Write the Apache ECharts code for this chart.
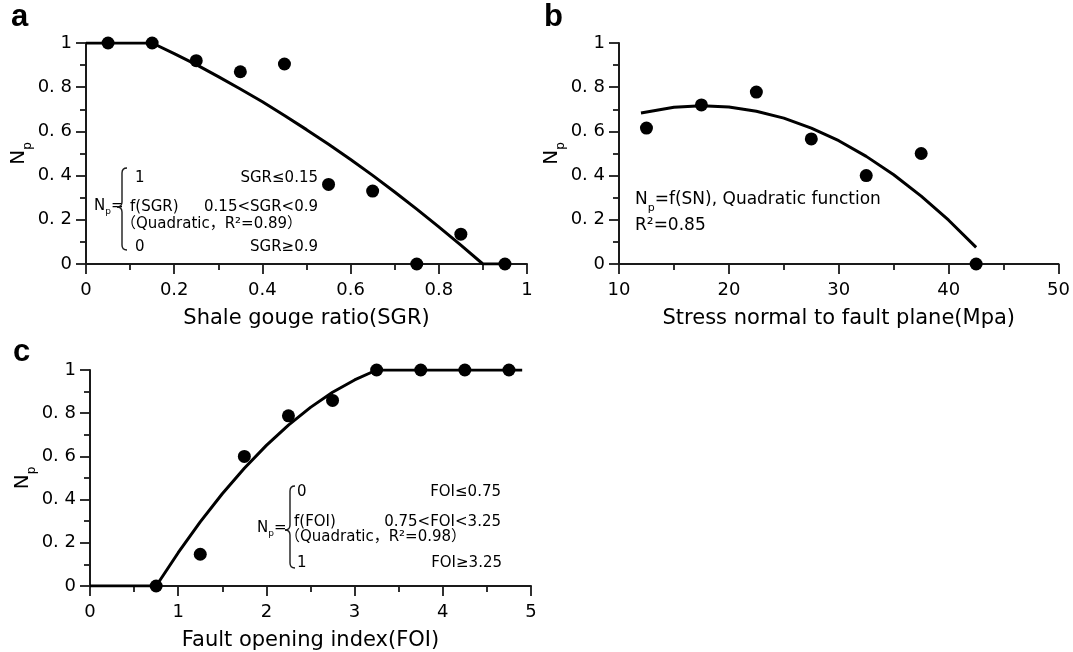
<!DOCTYPE html>
<html><head><meta charset="utf-8">
<script src="https://cdn.jsdelivr.net/npm/echarts@6/dist/echarts.min.js"></script>
<style>html,body{margin:0;padding:0;background:#fff}#c{width:1073px;height:652px}</style>
</head><body><div id="c"></div>
<script>
// ---- Panel a : Shale gouge ratio ----
const sgrX = [0.05, 0.15, 0.25, 0.35, 0.45, 0.55, 0.65, 0.75, 0.85, 0.95];
const sgrNp = [1, 1, 0.92, 0.87, 0.905, 0.36, 0.33, 0, 0.135, 0];
const sgrFitX = [0, 0.15, 0.2, 0.25, 0.3, 0.35, 0.4, 0.45, 0.5, 0.55, 0.6, 0.65, 0.7, 0.75, 0.8, 0.85, 0.9, 0.95];
const sgrFitNp = [1, 1, 0.952, 0.902, 0.848, 0.792, 0.734, 0.672, 0.608, 0.542, 0.473, 0.401, 0.326, 0.248, 0.168, 0.085, 0, 0];
// ---- Panel b : Stress normal to fault plane ----
const snX = [12.5, 17.5, 22.5, 27.5, 32.5, 37.5, 42.5];
const snNp = [0.615, 0.72, 0.778, 0.566, 0.40, 0.50, 0];
const snFitX = [12, 15, 17.5, 20, 22.5, 25, 27.5, 30, 32.5, 35, 37.5, 40, 42.5];
const snFitNp = [0.683, 0.709, 0.716, 0.710, 0.691, 0.660, 0.615, 0.558, 0.487, 0.404, 0.307, 0.198, 0.075];
// ---- Panel c : Fault opening index ----
const foiX = [0.75, 1.25, 1.75, 2.25, 2.75, 3.25, 3.75, 4.25, 4.75];
const foiNp = [0, 0.147, 0.60, 0.788, 0.859, 1, 1, 1, 1];
const foiFitX = [0, 0.75, 1, 1.25, 1.5, 1.75, 2, 2.25, 2.5, 2.75, 3, 3.25, 4.9];
const foiFitNp = [0, 0, 0.154, 0.297, 0.427, 0.545, 0.651, 0.745, 0.827, 0.897, 0.954, 1, 1];
// ---- Axis texts ----
const xNames = ['Shale gouge ratio(SGR)', 'Stress normal to fault plane(Mpa)', 'Fault opening index(FOI)'];
const panelLetters = ['a', 'b', 'c'];

const FONT = 'DejaVu Sans';
const INK = '#000';
const AX = '#1a1a1a';

function pairs(xs, ys) { return xs.map((x, i) => [x, ys[i]]); }

function makeX(gi, min, max, interval, name) {
  return {
    gridIndex: gi, type: 'value', min: min, max: max, interval: interval,
    name: name, nameLocation: 'middle', nameGap: 44,
    nameTextStyle: { fontSize: 21, color: INK, fontFamily: FONT },
    axisLine: { show: true, onZero: false, lineStyle: { color: AX, width: 2 } },
    axisTick: { show: true, length: 10, lineStyle: { color: AX, width: 1.8 } },
    minorTick: { show: true, splitNumber: 2, length: 6, lineStyle: { color: AX, width: 1.8 } },
    axisLabel: { fontSize: 18, color: INK, fontFamily: FONT, margin: 17,
      formatter: v => String(Math.round(v * 100) / 100) },
    splitLine: { show: false }, minorSplitLine: { show: false }
  };
}
function makeY(gi) {
  return {
    gridIndex: gi, type: 'value', min: 0, max: 1, interval: 0.2,
    name: '{n|N}{s|p}', nameLocation: 'middle', nameRotate: 90, nameGap: 53,
    nameTextStyle: { color: INK, fontFamily: FONT,
      rich: {
        n: { fontSize: 20, fontFamily: FONT, color: INK, verticalAlign: 'top', lineHeight: 24 },
        s: { fontSize: 12, fontFamily: FONT, color: INK, verticalAlign: 'top', lineHeight: 13, padding: [13, 0, 0, 0] }
      } },
    axisLine: { show: true, onZero: false, lineStyle: { color: AX, width: 2 } },
    axisTick: { show: true, length: 10, lineStyle: { color: AX, width: 1.8 } },
    minorTick: { show: true, splitNumber: 2, length: 6, lineStyle: { color: AX, width: 1.8 } },
    axisLabel: { fontSize: 18, color: INK, fontFamily: FONT, margin: 14,
      formatter: v => (v === 0 ? '0' : (Math.abs(v - 1) < 1e-9 ? '1' : '0. ' + Math.round(v * 10))) },
    splitLine: { show: false }, minorSplitLine: { show: false }
  };
}
function fitSeries(i, data) {
  return { type: 'line', xAxisIndex: i, yAxisIndex: i, data: data, showSymbol: false, symbol: 'none',
    smooth: false, lineStyle: { color: INK, width: 3 }, silent: true, z: 2 };
}
function dotSeries(i, data) {
  return { type: 'scatter', xAxisIndex: i, yAxisIndex: i, data: data, symbol: 'circle', symbolSize: 13,
    itemStyle: { color: '#000', opacity: 1 }, silent: true, z: 3 };
}

// text helpers
const AFONT = 'DejaVu Sans, Noto Sans CJK SC';
function txt(x, y, text, size, align) {
  return { type: 'text', x: x, y: y, silent: true,
    style: { text: text, fontSize: size, fontFamily: AFONT, fill: INK, align: align || 'left', verticalAlign: 'middle' } };
}
function richNp(x, y, tail, size) {
  return { type: 'text', x: x, y: y, silent: true,
    style: { text: '{n|N}{s|p}{n|' + tail + '}', fontFamily: FONT, fill: INK, align: 'left', verticalAlign: 'middle',
      rich: {
        n: { fontSize: size, fontFamily: FONT, fill: INK, color: INK, verticalAlign: 'top', lineHeight: size + 4 },
        s: { fontSize: Math.round(size * 0.62), fontFamily: FONT, fill: INK, color: INK, verticalAlign: 'top', lineHeight: Math.round(size * 0.7), padding: [Math.round(size * 0.62), 0, 0, 0] }
      } } };
}
function brace(x, top, bottom, tip) {
  const ls = { stroke: AX, lineWidth: 1.4, fill: null };
  return [
    { type: 'bezierCurve', silent: true, shape: { x1: x + 5, y1: top, cpx1: x, cpy1: top, x2: x, y2: top + 5 }, style: ls },
    { type: 'line', silent: true, shape: { x1: x, y1: top + 5, x2: x, y2: tip - 5 }, style: ls },
    { type: 'bezierCurve', silent: true, shape: { x1: x, y1: tip - 5, cpx1: x, cpy1: tip, x2: x - 5, y2: tip }, style: ls },
    { type: 'bezierCurve', silent: true, shape: { x1: x - 5, y1: tip, cpx1: x, cpy1: tip, x2: x, y2: tip + 5 }, style: ls },
    { type: 'line', silent: true, shape: { x1: x, y1: tip + 5, x2: x, y2: bottom - 5 }, style: ls },
    { type: 'bezierCurve', silent: true, shape: { x1: x, y1: bottom - 5, cpx1: x, cpy1: bottom, x2: x + 5, y2: bottom }, style: ls }
  ];
}

const graphics = [];
// panel letters
[[11, 17], [544, 17], [13, 352]].forEach((p, i) => {
  graphics.push({ type: 'text', x: p[0], y: p[1], silent: true,
    style: { text: panelLetters[i], fontSize: 31, fontWeight: 'bold', fontFamily: 'Liberation Sans', fill: '#000', align: 'left', verticalAlign: 'middle' } });
});
// panel a annotation
graphics.push(richNp(94, 208, '=', 15));
graphics.push(...brace(122, 168, 250, 207));
graphics.push(txt(135, 178, '1', 15));
graphics.push(txt(318, 178, 'SGR≤0.15', 15, 'right'));
graphics.push(txt(130, 207, 'f(SGR)', 15));
graphics.push(txt(318, 207, '0.15<SGR<0.9', 15, 'right'));
graphics.push(txt(121, 224, '（Quadratic，R²=0.89）', 15));
graphics.push(txt(135, 247, '0', 15));
graphics.push(txt(318, 247, 'SGR≥0.9', 15, 'right'));
// panel b annotation
graphics.push(richNp(635, 202, '=f(SN), Quadratic function', 17));
graphics.push(txt(635, 226, 'R²=0.85', 17));
// panel c annotation
graphics.push(richNp(257, 530, '=', 15));
graphics.push(...brace(290, 486, 568, 530));
graphics.push(txt(297, 492, '0', 15));
graphics.push(txt(501, 492, 'FOI≤0.75', 15, 'right'));
graphics.push(txt(294, 522, 'f(FOI)', 15));
graphics.push(txt(501, 522, '0.75<FOI<3.25', 15, 'right'));
graphics.push(txt(285, 537, '（Quadratic，R²=0.98）', 15));
graphics.push(txt(297, 563, '1', 15));
graphics.push(txt(502, 563, 'FOI≥3.25', 15, 'right'));

const chart = echarts.init(document.getElementById('c'), null, { renderer: 'canvas' });
chart.setOption({
  animation: false,
  backgroundColor: '#fff',
  grid: [
    { left: 86, top: 43, width: 441, height: 221 },
    { left: 619, top: 43, width: 440, height: 221 },
    { left: 90, top: 370, width: 441, height: 221 }
  ],
  xAxis: [
    makeX(0, 0, 1, 0.2, xNames[0]),
    makeX(1, 10, 50, 10, xNames[1]),
    makeX(2, 0, 5, 1, xNames[2])
  ],
  yAxis: [makeY(0), makeY(1), makeY(2)],
  series: [
    fitSeries(0, pairs(sgrFitX, sgrFitNp)), dotSeries(0, pairs(sgrX, sgrNp)),
    fitSeries(1, pairs(snFitX, snFitNp)), dotSeries(1, pairs(snX, snNp)),
    fitSeries(2, pairs(foiFitX, foiFitNp)), dotSeries(2, pairs(foiX, foiNp))
  ],
  graphic: { elements: graphics }
});
</script>
</body></html>
